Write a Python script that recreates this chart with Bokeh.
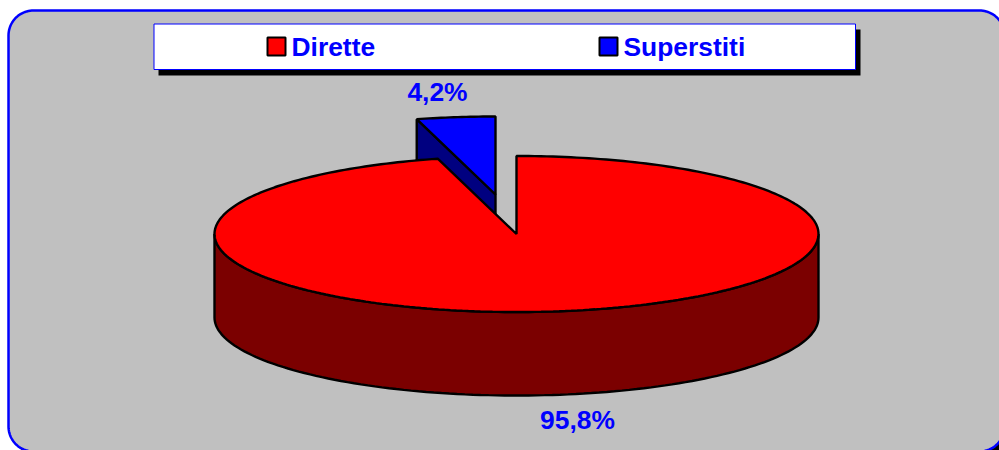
import numpy as np
from bokeh.plotting import figure
from bokeh.models import Range1d
from bokeh.embed import file_html
from bokeh.resources import INLINE
from bokeh.core.properties import value

categories = ["Dirette", "Superstiti"]
shares = [95.8, 4.2]
labels = ["95,8%", "4,2%"]

W, H = 999, 450
p = figure(width=W, height=H, x_range=Range1d(0, 999), y_range=Range1d(450, 0),
           output_backend="svg", toolbar_location=None, min_border=0,
           outline_line_color=None, background_fill_color="white", border_fill_color="white")
p.axis.visible = False
p.grid.visible = False

FONT = value("Liberation Sans")
BLUE = "#0000FF"

def rrect(x0, y0, x1, y1, r):
    xs, ys = [], []
    for cx, cy, a0 in [(x1 - r, y0 + r, -90), (x1 - r, y1 - r, 0), (x0 + r, y1 - r, 90), (x0 + r, y0 + r, 180)]:
        t = np.radians(np.linspace(a0, a0 + 90, 24))
        xs += list(cx + r * np.cos(t))
        ys += list(cy + r * np.sin(t))
    return xs, ys

# frame with shadow
sx_, sy_ = rrect(13, 15, 1009, 456, 25)
p.patch(sx_, sy_, fill_color="black", line_color=None)
fx, fy = rrect(8, 10, 1004, 451, 25)
p.patch(fx, fy, fill_color="#C0C0C0", line_color=BLUE, line_width=2.5)

# legend box
p.quad(left=[158], right=[860], top=[29], bottom=[75], fill_color="black", line_color=None)
p.quad(left=[153.5], right=[855], top=[23.5], bottom=[69], fill_color="white", line_color=BLUE, line_width=1)
legend_cols = ["#FF0000", BLUE]
lx = [267, 599]
p.quad(left=lx, right=[x + 18 for x in lx], top=[37, 37], bottom=[55, 55],
       fill_color=legend_cols, line_color="black", line_width=2)
p.text(x=[291, 623], y=[46, 46], text=categories, text_font=FONT, text_font_style="bold",
       text_font_size="26.4px", text_color=BLUE, text_baseline="middle", text_align="left")

# pie
cx, cy, rx, ry, depth = 516.0, 233.5, 302.0, 78.0, 83.5
gap = np.radians(360 * shares[1] / sum(shares))
dx, dy = -21.0, -39.5

# exploded blue wedge: side first, then top
t = np.linspace(-gap, 0, 20)
bx = cx + rx * np.sin(t) + dx
by = cy - ry * np.cos(t) + dy
ax, ay = cx + dx, cy + dy
p.patch([bx[0], ax, ax, bx[0]], [by[0], ay, ay + depth, by[0] + depth],
        fill_color="#000080", line_color="black", line_width=2.4)
p.patch([ax, *bx], [ay, *by], fill_color=BLUE, line_color="black", line_width=2.4)

# red side wall
t = np.radians(np.linspace(90, 270, 120))
sx = cx + rx * np.sin(t)
sy = cy - ry * np.cos(t)
p.patch([*sx, *sx[::-1]], [*sy, *(sy[::-1] + depth)], fill_color="#7B0000", line_color="black", line_width=2.4)

# red top
t = np.linspace(0, 2 * np.pi - gap, 300)
tx = cx + rx * np.sin(t)
ty = cy - ry * np.cos(t)
p.patch([cx, *tx], [cy, *ty], fill_color="#FF0000", line_color="black", line_width=2.4)

# value labels
p.text(x=[577, 437], y=[419.5, 91], text=labels, text_font=FONT, text_font_style="bold",
       text_font_size="26.4px", text_color=BLUE, text_baseline="middle", text_align="center")

open("out.html", "w").write(file_html(p, INLINE))
